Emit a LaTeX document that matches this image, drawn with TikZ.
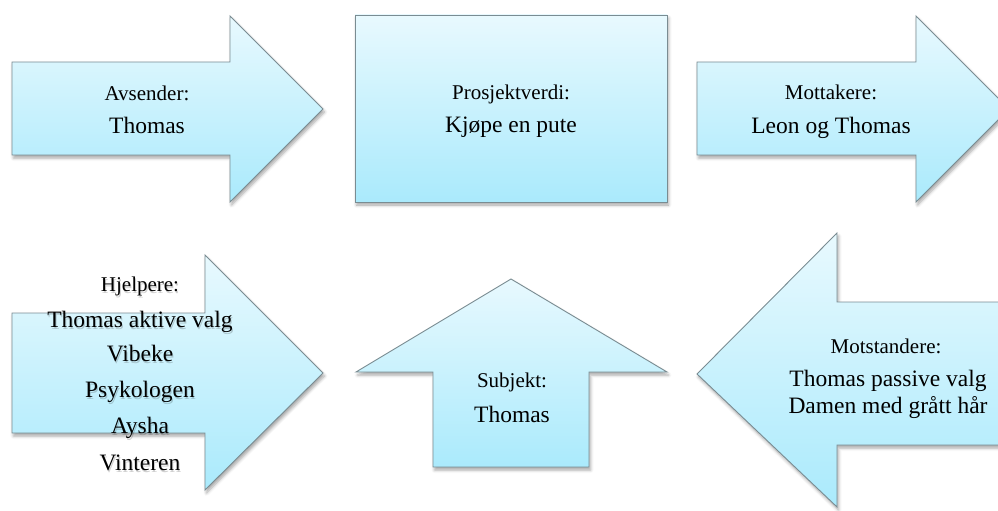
\documentclass[tikz,border=0pt]{standalone}
\usepackage{fontspec}
\setmainfont{Liberation Serif}
\usetikzlibrary{shadows.blur}

\definecolor{shapetop}{HTML}{E8F9FE}
\definecolor{shapebot}{HTML}{AAEAFC}
\definecolor{shapeedge}{HTML}{7A8C92}

\tikzset{
  panel/.style={draw=shapeedge, line width=0.9pt, line join=miter,
    top color=shapetop, bottom color=shapebot,
    blur shadow={shadow xshift=1.5pt, shadow yshift=-3pt,
                 shadow blur radius=3pt, shadow opacity=35}},
  role/.style={font=\fontsize{21}{25}\selectfont, anchor=base, inner sep=0pt},
  item/.style={font=\fontsize{23.5}{28}\selectfont, anchor=base, inner sep=0pt},
  ghost/.style={text=black, opacity=0.18, xshift=1pt, yshift=-2pt},
}

\begin{document}
\begin{tikzpicture}[x=1pt, y=-1pt]
  \useasboundingbox (0,0) rectangle (998,511);
  \clip (0,0) rectangle (998,511);

  % --- top row -------------------------------------------------------
  \path[panel] (12,62) -- (230,62) -- (230,16) -- (323,109) -- (230,202)
               -- (230,155) -- (12,155) -- cycle;
  \node[role] (avsL) at (147,100) {Avsender:};
  \node[item] (avsV) at (147,133) {Thomas};

  \path[panel] (355,15) rectangle (667,202);
  \node[role] (proL) at (511,99)  {Prosjektverdi:};
  \node[item] (proV) at (511,132) {Kjøpe en pute};

  \path[panel] (697,62) -- (916,62) -- (916,16) -- (1009,109) -- (916,202)
               -- (916,155) -- (697,155) -- cycle;
  \node[role] (motL) at (831,99)  {Mottakere:};
  \node[item] (motV) at (831,133) {Leon og Thomas};

  % --- bottom row ----------------------------------------------------
  \path[panel] (12,313) -- (205,313) -- (205,255) -- (323,373) -- (205,490)
               -- (205,433) -- (12,433) -- cycle;
  \foreach \txt/\yy/\sty/\nm in {Hjelpere:/291/role/hjL,
      Thomas aktive valg/327/item/hj1, Vibeke/361/item/hj2,
      Psykologen/397/item/hj3, Aysha/433/item/hj4, Vinteren/470/item/hj5} {
    \node[\sty, ghost] (\nm s) at (140,\yy) {\txt};
    \node[\sty] (\nm) at (140,\yy) {\txt};
  }

  \path[panel] (511,279) -- (667,372) -- (589,372) -- (589,467) -- (433,467)
               -- (433,372) -- (356,372) -- cycle;
  \node[role] (subL) at (512,387) {Subjekt:};
  \node[item] (subV) at (512,422) {Thomas};

  \path[panel] (697,374) -- (837,233) -- (837,302) -- (1015,302) -- (1015,445)
               -- (837,445) -- (837,507) -- cycle;
  \node[role] (mstL) at (886,353) {Motstandere:};
  \node[item] (mst1) at (888,386) {Thomas passive valg};
  \node[item] (mst2) at (888,413) {Damen med grått hår};
\end{tikzpicture}
\end{document}
